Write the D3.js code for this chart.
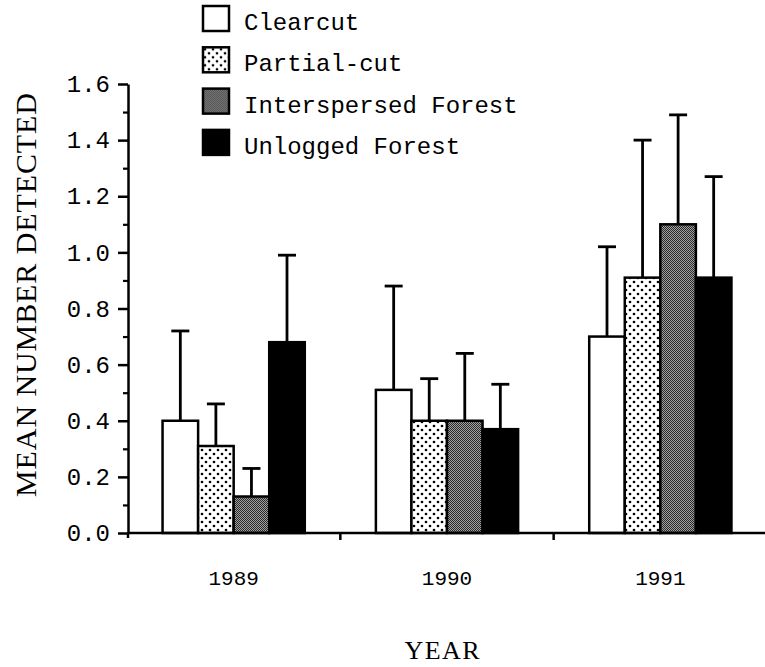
<!DOCTYPE html>
<html>
<head>
<meta charset="utf-8">
<script src="https://cdn.jsdelivr.net/npm/d3@7"></script>
<style>
  html, body { margin: 0; padding: 0; background: #fff; }
  svg { display: block; }
  text { font-family: "Liberation Mono", "DejaVu Sans Mono", monospace; fill: #000; }
  text.title { font-family: "Liberation Serif", "DejaVu Serif", serif; }
</style>
</head>
<body>
<svg id="chart" width="765" height="667"></svg>
<script>
// ---- data ----
const years = ["1989", "1990", "1991"];
const seriesNames = ["Clearcut", "Partial-cut", "Interspersed Forest", "Unlogged Forest"];
const clearcutMean     = [0.40, 0.51, 0.70];
const partialMean      = [0.31, 0.40, 0.91];
const interspersedMean = [0.13, 0.40, 1.10];
const unloggedMean     = [0.68, 0.37, 0.91];
const clearcutErr      = [0.32, 0.37, 0.32];
const partialErr       = [0.15, 0.15, 0.49];
const interspersedErr  = [0.10, 0.24, 0.39];
const unloggedErr      = [0.31, 0.16, 0.36];
const yMajorTicks = [0.0, 0.2, 0.4, 0.6, 0.8, 1.0, 1.2, 1.4, 1.6];
const yMinorTicks = [0.1, 0.3, 0.5, 0.7, 0.9, 1.1, 1.3, 1.5];
const xTitle = "YEAR";
const yTitle = "MEAN NUMBER DETECTED";

const means = [clearcutMean, partialMean, interspersedMean, unloggedMean];
const errs = [clearcutErr, partialErr, interspersedErr, unloggedErr];
const fills = ["#fff", "url(#dots)", "url(#stipple)", "#000"];

const rows = [];
years.forEach((yr, i) => {
  seriesNames.forEach((s, j) => {
    rows.push({ year: yr, series: s, si: j, mean: means[j][i], err: errs[j][i] });
  });
});

const svg = d3.select("#chart");

// ---- patterns ----
const defs = svg.append("defs");
const dots = defs.append("pattern").attr("id", "dots")
  .attr("patternUnits", "userSpaceOnUse").attr("width", 8).attr("height", 8);
dots.append("rect").attr("width", 8).attr("height", 8).attr("fill", "#fff");
dots.append("circle").attr("cx", 2).attr("cy", 2).attr("r", 1.35).attr("fill", "#000");
dots.append("circle").attr("cx", 6).attr("cy", 6).attr("r", 1.35).attr("fill", "#000");

const stip = defs.append("pattern").attr("id", "stipple")
  .attr("patternUnits", "userSpaceOnUse").attr("width", 2).attr("height", 2);
stip.append("rect").attr("width", 2).attr("height", 2).attr("fill", "#a0a0a0");
stip.append("rect").attr("width", 1).attr("height", 1).attr("fill", "#2a2a2a");
stip.append("rect").attr("x", 1).attr("y", 1).attr("width", 1).attr("height", 1).attr("fill", "#2a2a2a");

// ---- scales ----
const y = d3.scaleLinear().domain([0, 1.6]).range([533, 84]);
const x0 = d3.scaleBand().domain(years).range([127, 767]).paddingInner(1 / 3).paddingOuter(1 / 6);
const x1 = d3.scaleBand().domain(seriesNames).range([0, x0.bandwidth()]).padding(0);

// ---- bars ----
const bars = svg.append("g");
bars.selectAll("rect.bar").data(rows).join("rect")
  .attr("class", "bar")
  .attr("x", d => x0(d.year) + x1(d.series))
  .attr("y", d => y(d.mean))
  .attr("width", x1.bandwidth())
  .attr("height", d => y(0) - y(d.mean))
  .attr("fill", d => fills[d.si])
  .attr("stroke", "#000")
  .attr("stroke-width", 2.5);

// ---- error bars ----
const eb = svg.append("g").attr("stroke", "#000").attr("stroke-width", 2.8);
eb.selectAll("line.v").data(rows).join("line")
  .attr("x1", d => x0(d.year) + x1(d.series) + x1.bandwidth() / 2)
  .attr("x2", d => x0(d.year) + x1(d.series) + x1.bandwidth() / 2)
  .attr("y1", d => y(d.mean))
  .attr("y2", d => y(d.mean + d.err));
eb.selectAll("line.c").data(rows).join("line")
  .attr("x1", d => x0(d.year) + x1(d.series) + x1.bandwidth() / 2 - 9)
  .attr("x2", d => x0(d.year) + x1(d.series) + x1.bandwidth() / 2 + 9)
  .attr("y1", d => y(d.mean + d.err))
  .attr("y2", d => y(d.mean + d.err));

// ---- y axis ----
const yAxisMinor = svg.append("g").attr("transform", "translate(128,0)")
  .call(d3.axisLeft(y).tickValues(yMinorTicks).tickSize(5).tickSizeOuter(0).tickFormat(""));
yAxisMinor.select(".domain").remove();
yAxisMinor.selectAll("line").attr("stroke-width", 2.2);

const yAxis = svg.append("g").attr("transform", "translate(128,0)")
  .call(d3.axisLeft(y).tickValues(yMajorTicks).tickSize(10).tickSizeOuter(0)
    .tickPadding(8).tickFormat(d3.format(".1f")));
yAxis.select(".domain").attr("stroke-width", 2.5);
yAxis.selectAll("line").attr("stroke-width", 2.5);
yAxis.selectAll("text").attr("font-size", 24).attr("font-family", "Liberation Mono");

// ---- x axis ----
const xAxis = svg.append("g").attr("transform", "translate(0,533)")
  .call(d3.axisBottom(x0).tickSize(0).tickPadding(37).tickSizeOuter(0));
xAxis.select(".domain").remove();
xAxis.selectAll("text").attr("font-size", 21).attr("font-family", "Liberation Mono");

svg.append("line")
  .attr("x1", 128).attr("x2", 765).attr("y1", y(0)).attr("y2", y(0))
  .attr("stroke", "#000").attr("stroke-width", 2.5);
svg.append("line")
  .attr("x1", 128).attr("x2", 128).attr("y1", y(0)).attr("y2", y(0) + 5)
  .attr("stroke", "#000").attr("stroke-width", 2.5);

const boundaries = years.slice(0, -1).map(yr => x0(yr) + x0.bandwidth() + (x0.step() - x0.bandwidth()) / 2);
svg.append("g").selectAll("line").data(boundaries).join("line")
  .attr("x1", d => d).attr("x2", d => d)
  .attr("y1", y(0)).attr("y2", y(0) + 7)
  .attr("stroke", "#000").attr("stroke-width", 2.5);

// ---- titles ----
svg.append("text")
  .attr("class", "title")
  .attr("x", 442).attr("y", 659)
  .attr("text-anchor", "middle")
  .attr("font-size", 26)
  .attr("textLength", 75).attr("lengthAdjust", "spacing")
  .text(xTitle);

svg.append("text")
  .attr("class", "title")
  .attr("transform", "translate(36,295) rotate(-90)")
  .attr("text-anchor", "middle")
  .attr("font-size", 30)
  .attr("textLength", 404).attr("lengthAdjust", "spacing")
  .text(yTitle);

// ---- legend ----
const legend = svg.append("g");
const lg = legend.selectAll("g").data(seriesNames).join("g")
  .attr("transform", (d, i) => `translate(203,${6 + i * 41.3})`);
lg.append("rect")
  .attr("width", 26).attr("height", 25)
  .attr("fill", (d, i) => fills[i])
  .attr("stroke", "#000").attr("stroke-width", 2.5);
lg.append("text")
  .attr("x", 41).attr("y", 24)
  .attr("font-size", 24)
  .text(d => d);
</script>
</body>
</html>
